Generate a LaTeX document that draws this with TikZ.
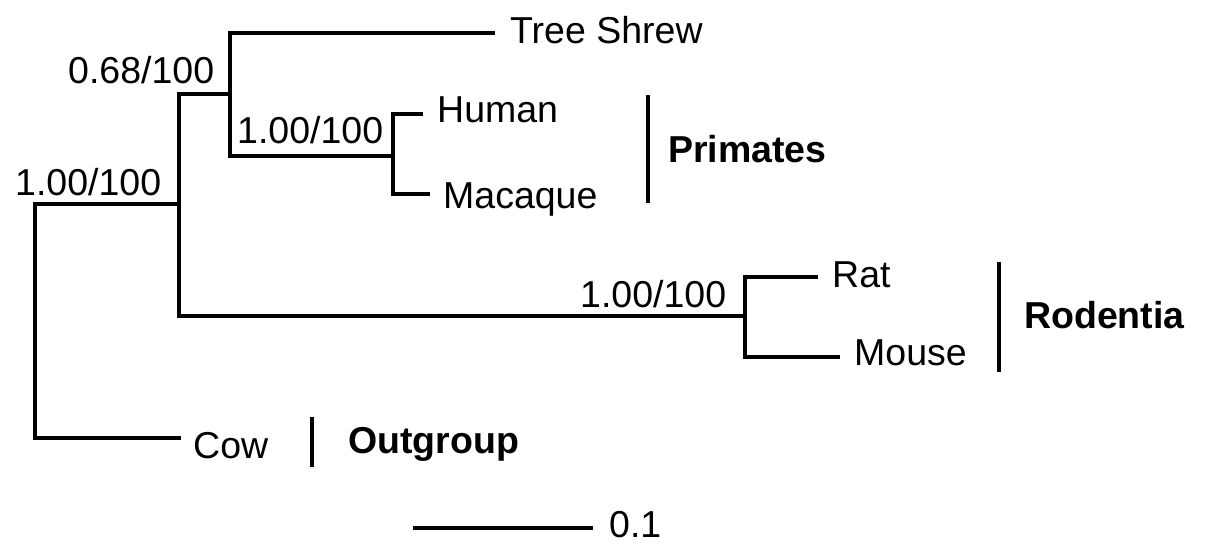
\documentclass[tikz,border=0pt]{standalone}
\usepackage{fontspec}
\setmainfont{Liberation Sans}
\begin{document}
\begin{tikzpicture}[x=1pt,y=-1pt,
  br/.style={line width=4.8pt},
  lab/.style={font=\fontsize{37.5}{40}\selectfont, inner sep=0pt, anchor=base west},
  grp/.style={font=\fontsize{37.5}{40}\selectfont\bfseries, inner sep=0pt, anchor=base west}]
\useasboundingbox (0,0) rectangle (1205,555);
% internal node corners
\coordinate (rt) at (35,204);
\coordinate (rb) at (35,438);
\coordinate (n1t) at (179,94);
\coordinate (n1b) at (179,316);
\coordinate (n2t) at (230,33);
\coordinate (n2b) at (230,156);
\coordinate (n3t) at (393,114);
\coordinate (n3b) at (393,194);
\coordinate (n4t) at (745,277);
\coordinate (n4b) at (745,357);
% leaf ends
\coordinate (eTS) at (495,33);
\coordinate (eHu) at (423,114);
\coordinate (eMa) at (430,194);
\coordinate (eRa) at (818,277);
\coordinate (eMo) at (840,357);
\coordinate (eCo) at (181,438);
% leaf labels
\node[lab] (ts) at (510,43) {Tree Shrew};
\node[lab] (hu) at (437,122) {Human};
\node[lab] (ma) at (443,208) {Macaque};
\node[lab] (ra) at (832,287) {Rat};
\node[lab] (mo) at (854,365) {Mouse};
\node[lab] (co) at (193,458) {Cow};
% support labels
\node[lab] (s1) at (15,195) {1.00/100};
\node[lab] (s2) at (68,83) {0.68/100};
\node[lab] (s3) at (237,143) {1.00/100};
\node[lab] (s4) at (580,307) {1.00/100};
% branches
\draw[br] (n1t |- rt) -- (rt) -- (rb) -- (eCo);
\draw[br] (n2t |- n1t) -- (n1t) -- (n1b) -- (n4t |- n1b);
\draw[br] (eTS) -- (n2t) -- (n2b) -- (n3t |- n2b);
\draw[br] (eHu) -- (n3t) -- (n3b) -- (eMa);
\draw[br] (eRa) -- (n4t) -- (n4b) -- (eMo);
% group bars
\coordinate (pbT) at (648,95);
\coordinate (pbB) at (648,203);
\coordinate (rbT) at (999,262);
\coordinate (rbB) at (999,372);
\coordinate (obT) at (312,417);
\coordinate (obB) at (312,467);
\draw[br] (pbT) -- (pbB);
\draw[br] (rbT) -- (rbB);
\draw[br] (obT) -- (obB);
\node[grp] (gp) at (668,162) {Primates};
\node[grp] (gr) at (1024,328) {Rodentia};
\node[grp] (go) at (348,453) {Outgroup};
% scale bar
\coordinate (sbL) at (413,528);
\coordinate (sbR) at (593,528);
\draw[br] (sbL) -- (sbR);
\node[lab] (sb) at (609,537) {0.1};
\end{tikzpicture}
\end{document}
